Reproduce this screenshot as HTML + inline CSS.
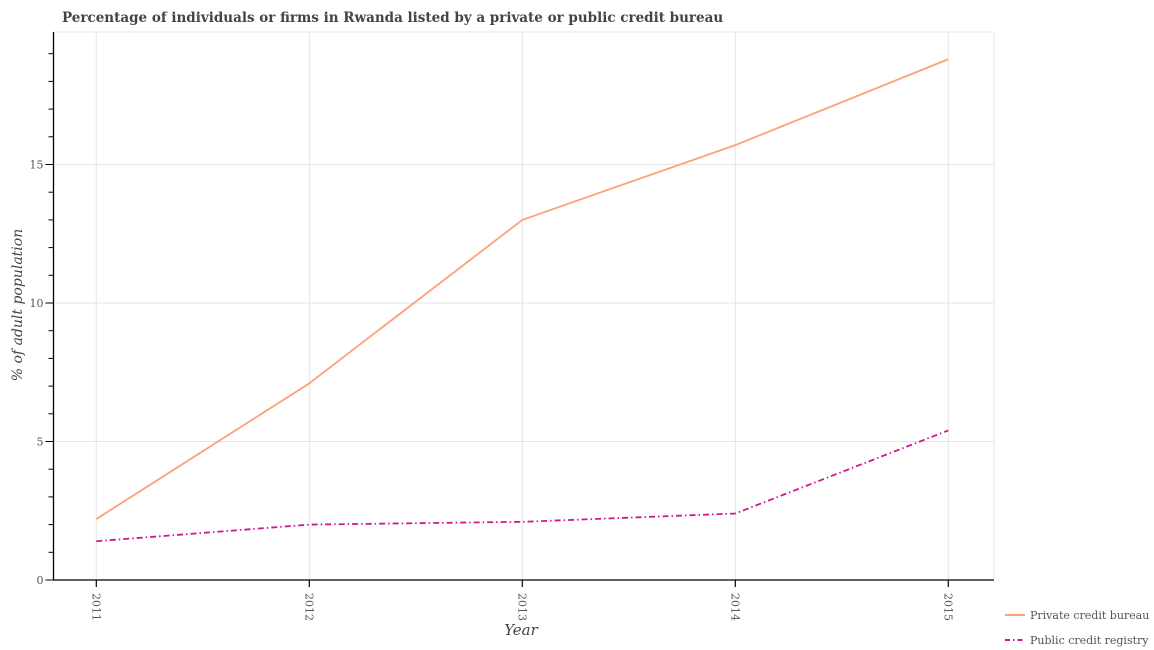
<!DOCTYPE html>
<html><head><meta charset="utf-8"><style>
body{margin:0;background:#fff;}
svg{display:block;font-family:"DejaVu Serif","Liberation Serif",serif;}
</style></head><body>
<svg id="chart" width="1154" height="650">
<text x="62" y="22" font-size="13.5" font-weight="bold" fill="#444">Percentage of individuals or firms in Rwanda listed by a private or public credit bureau</text>
<g id="grid"></g>
<g id="axes"></g>
<g id="series"></g>
<text transform="translate(22,305) rotate(-90)" text-anchor="middle" font-size="14" font-style="italic" fill="#444">% of adult population</text>
<text x="521" y="635" text-anchor="middle" font-size="15" font-style="italic" fill="#444">Year</text>
<g>
<line x1="1005" y1="615" x2="1025" y2="615" stroke="#fca27a" stroke-width="2"/>
<text x="1030" y="619" font-size="11" fill="#555">Private credit bureau</text>
<line x1="1005" y1="640" x2="1025" y2="640" stroke="#cc1a8a" stroke-width="2" stroke-dasharray="5,3,1.5,3"/>
<text x="1030" y="644" font-size="11" fill="#555">Public credit registry</text>
</g>
</svg>
<script>
const years = [2011, 2012, 2013, 2014, 2015];
const privateBureau = [2.2, 7.1, 13.0, 15.7, 18.8];
const publicRegistry = [1.4, 2.0, 2.1, 2.4, 5.4];
const yTicks = [0, 5, 10, 15];

const NS = "http://www.w3.org/2000/svg";
const plotLeft = 53.5, plotRight = 994, plotTop = 32, plotBottom = 580;
const xPos = i => 96.3 + i * 213;
const yPos = v => 580 - v * 27.7;
function mk(tag, attrs, parent) { const e = document.createElementNS(NS, tag); for (const k in attrs) e.setAttribute(k, attrs[k]); parent.appendChild(e); return e; }
const grid = document.getElementById('grid'), axes = document.getElementById('axes'), series = document.getElementById('series');

for (let v = 1; v <= 19; v++) {
  const t = mk('line', {x1: plotLeft - 5, x2: plotLeft, y1: yPos(v), y2: yPos(v), stroke: '#000', 'stroke-width': 1}, axes);
  
  
}
yTicks.forEach(v => {
  if (v > 0) {
    const g = mk('line', {x1: plotLeft, x2: plotRight, y1: yPos(v), y2: yPos(v), stroke: '#e4e4e4', 'stroke-width': 1}, grid);
    
    
  }
  const t = mk('line', {x1: plotLeft - 8, x2: plotLeft, y1: yPos(v), y2: yPos(v), stroke: '#000', 'stroke-width': 1}, axes);
  
  
  const l = mk('text', {x: plotLeft - 10, y: yPos(v) + 4, 'text-anchor': 'end', 'font-size': 11, fill: '#555'}, axes);
  l.textContent = v;
  
  
});
years.forEach((yr, i) => {
  const g = mk('line', {x1: xPos(i), x2: xPos(i), y1: plotTop, y2: plotBottom, stroke: '#e4e4e4', 'stroke-width': 1}, grid);
  
  
  const t = mk('line', {x1: xPos(i), x2: xPos(i), y1: plotBottom, y2: plotBottom + 7, stroke: '#000', 'stroke-width': 1.2}, axes);
  
  
  const l = mk('text', {transform: `translate(${xPos(i) - 4},${plotBottom + 13}) rotate(90)`, 'font-size': 11, fill: '#555'}, axes);
  l.textContent = yr;
  
  
});
mk('line', {x1: plotRight, x2: plotRight, y1: plotTop, y2: plotBottom, stroke: '#e4e4e4'}, grid);
mk('line', {x1: plotLeft, x2: plotRight, y1: plotTop, y2: plotTop, stroke: '#e4e4e4'}, grid);
const ya = mk('line', {x1: plotLeft, x2: plotLeft, y1: plotTop, y2: plotBottom, stroke: '#000', 'stroke-width': 1.3}, axes);


const xa = mk('line', {x1: plotLeft, x2: plotRight, y1: plotBottom, y2: plotBottom, stroke: '#000', 'stroke-width': 1.3}, axes);



const p1 = mk('polyline', {points: privateBureau.map((v, i) => xPos(i) + ',' + yPos(v)).join(' '), fill: 'none', stroke: '#fca27a', 'stroke-width': 1.8}, series);


const p2 = mk('polyline', {points: publicRegistry.map((v, i) => xPos(i) + ',' + yPos(v)).join(' '), fill: 'none', stroke: '#cc1a8a', 'stroke-width': 1.8, 'stroke-dasharray': '6,3,1.5,3'}, series);


</script>
</body></html>
